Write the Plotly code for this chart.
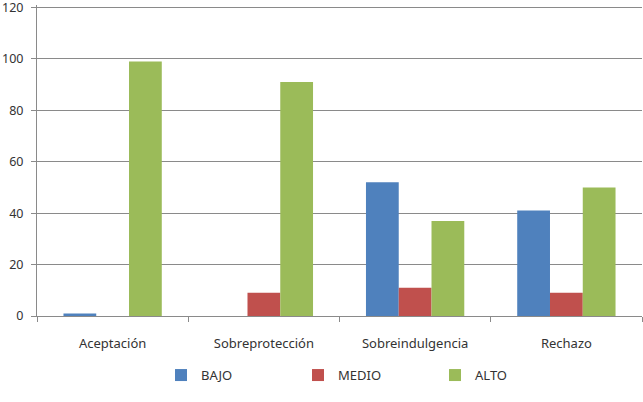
import plotly.graph_objects as go

categories = ["Aceptación", "Sobreprotección", "Sobreindulgencia", "Rechazo"]
bajo = [1, 0, 52, 41]
medio = [0, 9, 11, 9]
alto = [99, 91, 37, 50]
y_ticks = [0, 20, 40, 60, 80, 100, 120]

font = dict(family="Noto Sans, Open Sans, sans-serif", size=13, color="#333333")
grid = "#8a8a8a"

fig = go.Figure()
fig.add_bar(x=categories, y=bajo, name="BAJO", marker=dict(color="#4F81BD", line_width=0))
fig.add_bar(x=categories, y=medio, name="MEDIO", marker=dict(color="#C0504D", line_width=0))
fig.add_bar(x=categories, y=alto, name="ALTO", marker=dict(color="#9BBB59", line_width=0))

fig.update_layout(
    width=643, height=402,
    margin=dict(l=37, r=1, t=5, b=86, autoexpand=False),
    paper_bgcolor="white", plot_bgcolor="white",
    barmode="group", bargap=0.35, bargroupgap=0,
    font=font,
    showlegend=True,
    legend=dict(orientation="h", x=0.205, xanchor="left", y=-0.19, yanchor="middle",
                entrywidth=92, font=font, itemwidth=30, traceorder="normal"),
)
fig.update_xaxes(
    type="category", showline=True, linecolor=grid, linewidth=1,
    ticks="outside", tickson="boundaries", ticklen=5, tickcolor=grid,
    ticklabelstandoff=15, showgrid=False, automargin=False,
)
fig.update_yaxes(
    range=[0, 121], tickvals=y_ticks, showgrid=True, gridcolor=grid, gridwidth=1,
    showline=True, linecolor=grid, linewidth=1, ticks="outside", ticklen=5, tickcolor=grid,
    ticklabelstandoff=5, zeroline=False, ticklabeloverflow="allow", automargin=False,
    tickfont=dict(size=12.5),
)
fig.write_html("out.html")
